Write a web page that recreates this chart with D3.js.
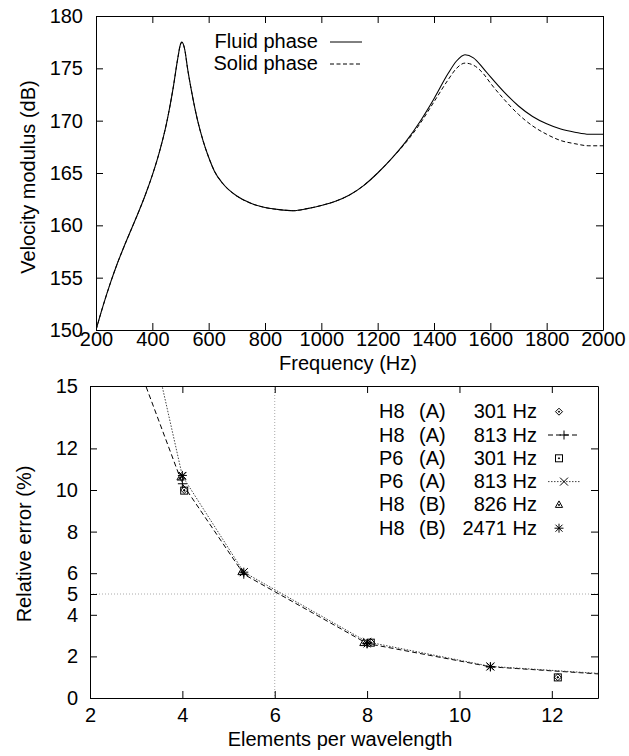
<!DOCTYPE html>
<html>
<head>
<meta charset="utf-8">
<script src="https://cdn.jsdelivr.net/npm/d3@7"></script>
<style>
body { margin: 0; background: #fff; }
svg text { font-family: "Liberation Sans", Arial, sans-serif; font-size: 20px; fill: #000; }
</style>
</head>
<body>
<div id="chart"></div>
<script>
// ---- top panel: velocity modulus against frequency ----
const freq = [200, 225, 250, 275, 300, 325, 350, 375, 400, 425, 450, 475, 490, 500, 505, 515, 525, 540, 560, 580,
    600, 620, 650, 700, 750, 800, 850, 900, 950, 1000, 1050, 1100, 1150, 1200, 1250, 1300, 1350, 1400, 1450,
    1480, 1510, 1540, 1575, 1600, 1650, 1700, 1750, 1800, 1850, 1900, 1950, 2000];
const fluidDb = [150.0, 152.3, 154.4, 156.3, 158.0, 159.6, 161.2, 162.9, 164.8, 167.0, 169.7, 173.3, 175.9, 177.3,
    177.5, 176.8, 175.0, 172.7, 170.1, 168.1, 166.5, 165.2, 164.0, 162.8, 162.1, 161.7, 161.5, 161.4, 161.6,
    161.9, 162.3, 162.9, 163.8, 165.0, 166.4, 168.0, 169.9, 172.1, 174.5, 175.7, 176.3, 176.0, 175.0, 174.2,
    172.7, 171.4, 170.4, 169.7, 169.2, 168.9, 168.7, 168.7];
const solidDb = [150.0, 152.3, 154.4, 156.3, 158.0, 159.6, 161.2, 162.9, 164.8, 167.0, 169.7, 173.3, 175.9, 177.3,
    177.5, 176.8, 175.0, 172.7, 170.1, 168.1, 166.5, 165.2, 164.0, 162.8, 162.1, 161.7, 161.5, 161.4, 161.6,
    161.9, 162.3, 162.9, 163.8, 165.0, 166.4, 167.9, 169.7, 171.8, 173.9, 175.0, 175.5, 175.3, 174.5, 173.6,
    172.0, 170.6, 169.5, 168.7, 168.1, 167.8, 167.6, 167.6];
const freqTicks = [200, 400, 600, 800, 1000, 1200, 1400, 1600, 1800, 2000];
const dbTicks = [150, 155, 160, 165, 170, 175, 180];
const phaseNames = ["Fluid phase", "Solid phase"];

// ---- bottom panel: relative error against elements per wavelength ----
const eplTicks = [2, 4, 6, 8, 10, 12];
const errTicks = [0, 2, 4, 5, 6, 8, 10, 12, 15];
const h8a301 = [[4.04, 10.0], [8.08, 2.68], [12.13, 1.0]];
const h8a813 = [[2.67, 18.2], [4.0, 10.3], [5.33, 5.95], [8.0, 2.62], [10.67, 1.5], [16.0, 0.72]];
const p6a301 = [[4.04, 9.97], [8.08, 2.66], [12.13, 0.99]];
const p6a813 = [[2.67, 23.8], [4.0, 10.67], [5.33, 6.05], [8.0, 2.7], [10.67, 1.52], [16.0, 0.75]];
const h8b826 = [[3.96, 10.6], [5.28, 6.05], [7.92, 2.64]];
const h8b2471 = [[4.0, 10.7], [5.33, 6.05], [8.0, 2.6], [10.67, 1.5]];
const legendMesh = ["H8", "H8", "P6", "P6", "H8", "H8"];
const legendCase = ["(A)", "(A)", "(A)", "(A)", "(B)", "(B)"];
const legendFreq = ["301 Hz", "813 Hz", "301 Hz", "813 Hz", "826 Hz", "2471 Hz"];

const series = [
    { data: h8a301, marker: "diamond", dash: null },
    { data: h8a813, marker: "plus", dash: "5,3" },
    { data: p6a301, marker: "square", dash: null },
    { data: p6a813, marker: "cross", dash: "1.5,1.5" },
    { data: h8b826, marker: "triangle", dash: null },
    { data: h8b2471, marker: "star", dash: null }
];

const svg = d3.select("#chart").append("svg")
    .attr("width", 629)
    .attr("height", 756);

function frameAxes(x, y, box, xt, yt, xPad, yPad) {
    svg.append("g")
        .attr("transform", `translate(0,${box.bottom})`)
        .call(d3.axisBottom(x).tickValues(xt).tickFormat(d3.format("d"))
            .tickSizeInner(-7).tickSizeOuter(0).tickPadding(xPad));
    svg.append("g")
        .attr("transform", `translate(0,${box.top})`)
        .call(d3.axisTop(x).tickValues(xt).tickSizeInner(-7).tickSizeOuter(0).tickFormat(""));
    svg.append("g")
        .attr("transform", `translate(${box.left},0)`)
        .call(d3.axisLeft(y).tickValues(yt).tickFormat(d3.format("d"))
            .tickSizeInner(-7).tickSizeOuter(0).tickPadding(yPad));
    svg.append("g")
        .attr("transform", `translate(${box.right},0)`)
        .call(d3.axisRight(y).tickValues(yt).tickSizeInner(-7).tickSizeOuter(0).tickFormat(""));
    svg.selectAll(".domain, .tick line").attr("stroke", "#000").attr("stroke-width", 1);
}

// top panel
const box1 = { left: 96, right: 603, top: 16, bottom: 330 };
const x1 = d3.scaleLinear().domain([200, 2000]).range([box1.left, box1.right]);
const y1 = d3.scaleLinear().domain([150, 180]).range([box1.bottom, box1.top]);

svg.append("clipPath").attr("id", "clip1").append("rect")
    .attr("x", box1.left).attr("y", box1.top)
    .attr("width", box1.right - box1.left).attr("height", box1.bottom - box1.top);

const line1 = d3.line()
    .x((d, i) => x1(freq[i]))
    .y(d => y1(d))
    .curve(d3.curveMonotoneX);

svg.append("path").datum(fluidDb)
    .attr("clip-path", "url(#clip1)")
    .attr("d", line1).attr("fill", "none").attr("stroke", "#000").attr("stroke-width", 1.1);
svg.append("path").datum(solidDb)
    .attr("clip-path", "url(#clip1)")
    .attr("d", line1).attr("fill", "none").attr("stroke", "#000").attr("stroke-width", 1)
    .attr("stroke-dasharray", "4,2.5");

frameAxes(x1, y1, box1, freqTicks, dbTicks, 2, 13);

phaseNames.forEach((name, i) => {
    const yy = 42 + i * 22;
    svg.append("text").attr("x", 318).attr("y", yy + 6).attr("text-anchor", "end").text(name);
    svg.append("line").attr("x1", 330).attr("x2", 362).attr("y1", yy).attr("y2", yy)
        .attr("stroke", "#000").attr("stroke-dasharray", i ? "4,2.5" : null);
});

svg.append("text").attr("x", 348).attr("y", 370).attr("text-anchor", "middle").text("Frequency (Hz)");
svg.append("text").attr("transform", "translate(35,177) rotate(-90)")
    .attr("text-anchor", "middle").text("Velocity modulus (dB)");

// bottom panel
const box2 = { left: 90, right: 598, top: 386, bottom: 698 };
const x2 = d3.scaleLinear().domain([2, 13]).range([box2.left, box2.right]);
const y2 = d3.scaleLinear().domain([0, 15]).range([box2.bottom, box2.top]);

svg.append("clipPath").attr("id", "clip2").append("rect")
    .attr("x", box2.left).attr("y", box2.top)
    .attr("width", box2.right - box2.left).attr("height", box2.bottom - box2.top);

// dotted guide lines at 6 elements and 5 %
svg.append("line").attr("x1", x2(6)).attr("x2", x2(6)).attr("y1", box2.top).attr("y2", box2.bottom)
    .attr("stroke", "#aaa").attr("stroke-dasharray", "1,2");
svg.append("line").attr("x1", box2.left).attr("x2", box2.right).attr("y1", y2(5)).attr("y2", y2(5))
    .attr("stroke", "#aaa").attr("stroke-dasharray", "1,2");

function marker(g, type, cx, cy) {
    const k = g.append("g").attr("transform", `translate(${cx},${cy})`)
        .attr("fill", "none").attr("stroke", "#000").attr("stroke-width", 1);
    if (type === "diamond") {
        k.append("path").attr("d", "M0,-3.5L3.5,0L0,3.5L-3.5,0Z");
        k.append("circle").attr("r", 0.6).attr("fill", "#000");
    } else if (type === "square") {
        k.append("rect").attr("x", -3.5).attr("y", -3.5).attr("width", 7).attr("height", 7);
        k.append("circle").attr("r", 0.6).attr("fill", "#000");
    } else if (type === "triangle") {
        k.append("path").attr("d", "M0,-4L3.6,2.5L-3.6,2.5Z");
        k.append("circle").attr("r", 0.6).attr("fill", "#000");
    } else if (type === "plus") {
        k.append("path").attr("d", "M-4.5,0H4.5M0,-4.5V4.5");
    } else if (type === "cross") {
        k.append("path").attr("d", "M-4,-4L4,4M-4,4L4,-4");
    } else if (type === "star") {
        k.append("path").attr("d", "M-4.5,0H4.5M0,-4.5V4.5M-3.5,-3.5L3.5,3.5M-3.5,3.5L3.5,-3.5");
    }
}

const line2 = d3.line().x(d => x2(d[0])).y(d => y2(d[1]));

series.forEach(s => {
    if (s.dash) {
        svg.append("path").datum(s.data)
            .attr("clip-path", "url(#clip2)")
            .attr("d", line2).attr("fill", "none")
            .attr("stroke", s.dash === "5,3" ? "#000" : "#444")
            .attr("stroke-dasharray", s.dash);
    }
});
const marks = svg.append("g").attr("clip-path", "url(#clip2)");
series.forEach(s => {
    s.data.forEach(d => marker(marks, s.marker, x2(d[0]), y2(d[1])));
});

frameAxes(x2, y2, box2, eplTicks, errTicks, 10, 12);

series.forEach((s, i) => {
    const yy = 411.7 + i * 23.3;
    svg.append("text").attr("x", 379).attr("y", yy + 6.5).text(legendMesh[i]);
    svg.append("text").attr("x", 419).attr("y", yy + 6.5).text(legendCase[i]);
    svg.append("text").attr("x", 537).attr("y", yy + 6.5).attr("text-anchor", "end").text(legendFreq[i]);
    if (s.dash) {
        svg.append("line").attr("x1", 548).attr("x2", 580).attr("y1", yy).attr("y2", yy)
            .attr("stroke", s.dash === "5,3" ? "#000" : "#444").attr("stroke-dasharray", s.dash);
    }
    marker(svg, s.marker, s.dash ? 564 : 559, yy);
});

svg.append("text").attr("x", 340).attr("y", 746).attr("text-anchor", "middle").text("Elements per wavelength");
svg.append("text").attr("transform", "translate(31,544) rotate(-90)")
    .attr("text-anchor", "middle").text("Relative error (%)");
</script>
</body>
</html>
